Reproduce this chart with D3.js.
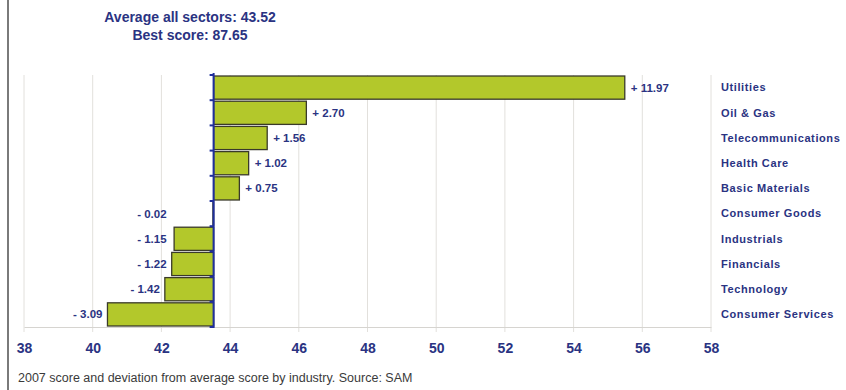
<!DOCTYPE html>
<html>
<head>
<meta charset="utf-8">
<script src="https://cdn.jsdelivr.net/npm/d3@7"></script>
<style>
	body { margin: 0; background: #fff; }
	svg { display: block; font-family: "Liberation Sans", Arial, sans-serif; }
</style>
</head>
<body>
<div id="chart"></div>
<script>
let average = 43.52
let bestScore = 87.65

let sectors = ['Utilities', 'Oil & Gas', 'Telecommunications', 'Health Care', 'Basic Materials',
	'Consumer Goods', 'Industrials', 'Financials', 'Technology', 'Consumer Services']
let deviations = [11.97, 2.70, 1.56, 1.02, 0.75, -0.02, -1.15, -1.22, -1.42, -3.09]
let tickValues = [38, 40, 42, 44, 46, 48, 50, 52, 54, 56, 58]

let navy = '#2a3382'

function init(){
	let width = 846, height = 390
	let left = 24, right = 711, top = 75, bottom = 327

	let svg = d3.select('#chart')
		.append('svg')
		.attr('width', width)
		.attr('height', height)

	// grey frame on the left side
	svg.append('line')
		.attr('x1', 8).attr('x2', 8)
		.attr('y1', 0).attr('y2', height)
		.attr('stroke', '#7a7a7a')
		.attr('stroke-width', 2)

	let x = d3.scaleLinear()
		.domain([38, 58])
		.range([left, right])

	let y = d3.scaleBand()
		.domain(sectors)
		.range([top, bottom])
		.paddingInner(0.08)
		.paddingOuter(0.04)

	// gridlines
	svg.selectAll('.grid')
		.data(tickValues)
		.enter()
		.append('line')
		.attr('x1', d => x(d)).attr('x2', d => x(d))
		.attr('y1', top).attr('y2', bottom + 5)
		.attr('stroke', '#e2e0dc')
		.attr('stroke-width', 1)

	// bottom axis
	let xAxis = svg.append('g')
		.attr('transform', 'translate(0,' + bottom + ')')
		.call(d3.axisBottom(x).tickValues(tickValues).tickSize(0).tickPadding(16))
	xAxis.select('.domain').attr('stroke', '#d6d4d0')
	xAxis.selectAll('text')
		.attr('fill', navy)
		.attr('font-size', 14)
		.attr('font-weight', 'bold')

	let rows = sectors.map(function(s, i){
		return {'name': s, 'dev': deviations[i], 'value': average + deviations[i]}
	})

	// bars
	svg.selectAll('.bar')
		.data(rows)
		.enter()
		.append('rect')
		.attr('x', d => x(Math.min(d.value, average)))
		.attr('y', d => y(d.name))
		.attr('width', d => Math.abs(x(d.value) - x(average)))
		.attr('height', y.bandwidth())
		.attr('fill', '#b3c82b')
		.attr('stroke', '#3a3a2a')
		.attr('stroke-width', 1.3)

	// vertical axis at the average
	let yAxis = svg.append('g')
		.attr('transform', 'translate(' + x(average) + ',0)')
	yAxis.append('line')
		.attr('y1', top - 2).attr('y2', bottom + 1)
		.attr('stroke', '#1f2f9c')
		.attr('stroke-width', 2)
	let edges = sectors.map(s => y(s) - y.step() * y.paddingInner() / 2)
	edges.push(bottom)
	yAxis.selectAll('.tick')
		.data(edges)
		.enter()
		.append('line')
		.attr('x1', -4).attr('x2', 0)
		.attr('y1', d => d).attr('y2', d => d)
		.attr('stroke', '#1f2f9c')
		.attr('stroke-width', 2)

	// value labels
	svg.selectAll('.val')
		.data(rows)
		.enter()
		.append('text')
		.attr('x', function(d){
			if(d.dev >= 0) return x(d.value) + 6
			return Math.min(x(d.value), x(average) - 42) - 5
		})
		.attr('y', d => y(d.name) + y.bandwidth() / 2)
		.attr('dy', '0.35em')
		.attr('text-anchor', d => d.dev >= 0 ? 'start' : 'end')
		.attr('fill', navy)
		.attr('font-size', 11.5)
		.attr('font-weight', 'bold')
		.text(d => (d.dev >= 0 ? '+ ' : '- ') + Math.abs(d.dev).toFixed(2))

	// category labels
	svg.selectAll('.cat')
		.data(rows)
		.enter()
		.append('text')
		.attr('x', 721)
		.attr('y', d => y(d.name) + y.bandwidth() / 2)
		.attr('dy', '0.35em')
		.attr('fill', navy)
		.attr('font-size', 11)
		.attr('font-weight', 'bold')
		.attr('letter-spacing', 0.6)
		.text(d => d.name)

	// heading
	svg.append('text')
		.attr('x', 190).attr('y', 22)
		.attr('text-anchor', 'middle')
		.attr('fill', navy)
		.attr('font-size', 14)
		.attr('font-weight', 'bold')
		.text('Average all sectors: ' + average.toFixed(2))
	svg.append('text')
		.attr('x', 190).attr('y', 40)
		.attr('text-anchor', 'middle')
		.attr('fill', navy)
		.attr('font-size', 14)
		.attr('font-weight', 'bold')
		.text('Best score: ' + bestScore.toFixed(2))

	// source note
	svg.append('text')
		.attr('x', 18).attr('y', 382)
		.attr('fill', '#3a3a3a')
		.attr('font-size', 12.5)
		.text('2007 score and deviation from average score by industry. Source: SAM')
}

init()
</script>
</body>
</html>
